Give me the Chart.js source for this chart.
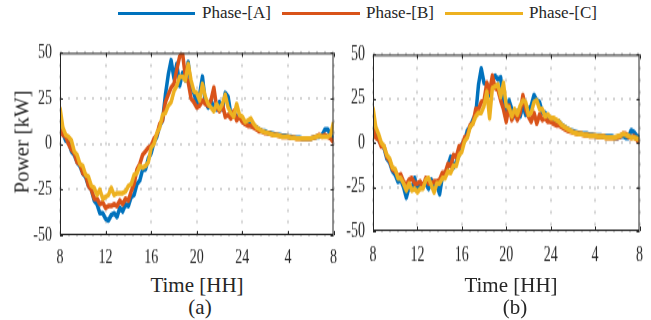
<!DOCTYPE html>
<html>
<head>
<meta charset="utf-8">
<script src="https://cdn.jsdelivr.net/npm/chart.js@4"></script>
<style>
    body {
        margin: 0;
        width: 651px;
        height: 320px;
        background: #ffffff;
        position: relative;
        overflow: hidden;
        font-family: "Liberation Serif", "Times New Roman", serif;
        color: #262626;
    }

    .painel {
        position: absolute;
        top: 30px;
        height: 240px;
    }

    .texto {
        position: absolute;
        transform: translate(-50%, -50%);
        white-space: nowrap;
        font-size: 21px;
        line-height: 1;
    }

    .legenda-linha {
        position: absolute;
        height: 3px;
        top: 12px;
    }

    .legenda-texto {
        position: absolute;
        top: 3px;
        font-size: 17px;
        line-height: 20px;
    }
</style>
</head>
<body>

<canvas id="graficoA" class="painel" style="left:0px;width:345px;"></canvas>
<canvas id="graficoB" class="painel" style="left:330px;width:321px;"></canvas>

<div class="legenda-linha" style="left:118px;width:77px;background:#0072BD;"></div>
<div class="legenda-texto" style="left:202px;">Phase-[A]</div>
<div class="legenda-linha" style="left:282px;width:78px;background:#D95319;"></div>
<div class="legenda-texto" style="left:366px;">Phase-[B]</div>
<div class="legenda-linha" style="left:445px;width:78px;background:#EDB120;"></div>
<div class="legenda-texto" style="left:529px;">Phase-[C]</div>

<div class="texto" style="left:22px;top:142px;transform:translate(-50%,-50%) rotate(-90deg);">Power [kW]</div>
<div class="texto" style="left:197px;top:285px;">Time [HH]</div>
<div class="texto" style="left:200px;top:307px;">(a)</div>
<div class="texto" style="left:511px;top:285px;">Time [HH]</div>
<div class="texto" style="left:515px;top:307px;">(b)</div>

<script>

// amostras a cada 15 min, de 8h ate 8h do dia seguinte
const passoHoras = 0.25;

const rotulosHora = ["8", "12", "16", "20", "24", "4", "8"];

const seriesNomes = ["Phase-[A]", "Phase-[B]", "Phase-[C]"];

const seriesCores = ["#0072BD", "#D95319", "#EDB120"];

// (a)
const faseA_a = [
    8, 6, 2, 1, -4, -6, -10, -12, -16, -18, -23, -25, -31, -33, -38, -38,
    -41, -42, -39, -38, -40, -35, -37, -33, -34, -29, -28, -22, -20, -14, -14, -8,
    -5, 1, 4, 10, 13, 27, 38, 46, 36, 44, 32, 39, 35, 45, 31, 28,
    22, 27, 37, 23, 20, 24, 20, 19, 23, 19, 28, 26, 16, 17, 15, 15,
    13, 11, 12, 10, 10, 9, 8, 7, 7, 6, 6, 5.5, 5, 5, 4.5, 4.5,
    4, 4, 3.5, 3.5, 3.5, 3, 3, 3, 3, 3.5, 4, 4, 5, 8, 8, 5,
    3
];

const faseB_a = [
    8, 5, 4, 0, -3, -5, -10, -11, -16, -17, -23, -25, -30, -30, -33, -32,
    -35, -34, -34, -33, -34, -31, -33, -30, -31, -26, -22, -14, -11, -6, -4, -2,
    -1, 3, 5, 11, 13, 23, 27, 31, 33, 41, 48, 50, 37, 34, 25, 23,
    20, 21, 24, 22, 21, 24, 31, 20, 18, 22, 15, 16, 14, 18, 13, 15,
    12, 11, 10, 10, 9, 8, 7, 7, 6, 6, 5.5, 5, 5, 4.5, 4, 4,
    4, 3.5, 3.5, 3, 3, 3, 3, 3, 3, 3.5, 4, 5, 4, 5, 4, 3,
    1
];

const faseC_a = [
    20, 9, 5, 4, 2, -4, -6, -11, -12, -17, -18, -23, -24, -28, -25, -30,
    -29, -28, -24, -28, -27, -27, -27, -26, -23, -22, -17, -16, -12, -13, -12, -10,
    -2, 0, 6, 9, 16, 17, 21, 23, 29, 32, 37, 37, 35, 44, 35, 29,
    28, 24, 33, 26, 22, 20, 18, 22, 19, 22, 27, 20, 17, 15, 22, 16,
    15, 12, 13, 14, 11, 9, 8, 7, 6.5, 6, 5.5, 5, 5, 4.5, 4, 4,
    4, 3.5, 3.5, 3, 3, 3, 3, 3, 3, 3.5, 4, 4.5, 4, 4, 4, 5,
    12
];

// (b)
const faseA_b = [
    8, 4, 2, -1, -3, -9, -11, -16, -18, -22, -21, -25, -31, -25, -26, -20,
    -26, -23, -24, -23, -26, -21, -24, -24, -29, -19, -18, -13, -8, -14, -11, -7,
    -1, 1, 7, 9, 13, 16, 33, 42, 34, 33, 27, 36, 38, 36, 37, 21,
    16, 24, 19, 15, 18, 15, 21, 16, 19, 21, 27, 24, 23, 17, 17, 14,
    14, 13, 11, 12, 10, 9, 8, 7, 6.5, 6, 5.5, 5, 5, 5, 4.5, 4.5,
    4, 4, 4, 3.5, 3.5, 3.5, 3.5, 3, 3, 3.5, 4, 3, 3, 7, 6, 4,
    3
];

const faseB_b = [
    8, 3, 2, -2, -2, -8, -10, -15, -16, -19, -18, -22, -24, -21, -20, -23,
    -23, -22, -25, -20, -23, -23, -22, -22, -21, -17, -17, -12, -13, -7, -8, -2,
    -2, 3, 4, 10, 11, 19, 19, 23, 24, 34, 29, 38, 31, 30, 24, 19,
    12, 21, 13, 18, 13, 17, 27, 19, 15, 12, 17, 11, 16, 13, 14, 12,
    12, 11, 10, 10, 9, 8, 7, 6.5, 6, 5.5, 5, 5, 4.5, 4.5, 4, 4,
    4, 3.5, 3.5, 3.5, 3, 3, 3, 3, 3, 3.5, 5, 5, 3.5, 3, 3.5, 2,
    0
];

const faseC_b = [
    20, 9, 5, 0, -2, -7, -9, -14, -15, -20, -20, -23, -27, -23, -27, -26,
    -28, -26, -26, -21, -20, -24, -28, -23, -23, -20, -20, -16, -17, -13, -13, -7,
    -5, 1, 3, 9, 11, 15, 17, 17, 21, 29, 14, 31, 32, 33, 26, 34,
    21, 20, 15, 19, 16, 21, 24, 23, 16, 17, 23, 24, 19, 19, 15, 16,
    14, 14, 13, 12, 10, 9, 8, 7, 6, 5.5, 5, 5, 4.5, 4.5, 4, 4,
    4, 3.5, 3.5, 3.5, 3, 3, 3, 3, 3.5, 4, 5, 4.5, 4, 3, 3, 2.5,
    2
];

const corTexto = "#262626";

const corGrade = "#d4d4d4";

const fonteSerif = "'Liberation Serif', 'Times New Roman', serif";

function montarPontos(valores) {

    return valores.map((v, i) => ({
        x: i * passoHoras,
        y: v
    }));
}

// caixa e marcas internas, estilo matlab
const pluginCaixa = {

    id: "caixa",

    afterDraw(chart) {

        const { ctx, chartArea, scales } = chart;

        const { left, right, top, bottom } = chartArea;

        ctx.save();

        ctx.strokeStyle = corTexto;

        ctx.lineWidth = 1;

        ctx.strokeRect(left + 0.5, top + 0.5, right - left - 1, bottom - top - 1);

        ctx.beginPath();

        scales.x.ticks.forEach(t => {

            const px = Math.round(scales.x.getPixelForValue(t.value)) + 0.5;

            ctx.moveTo(px, bottom);
            ctx.lineTo(px, bottom - 3);
            ctx.moveTo(px, top);
            ctx.lineTo(px, top + 3);
        });

        scales.y.ticks.forEach(t => {

            const py = Math.round(scales.y.getPixelForValue(t.value)) + 0.5;

            ctx.moveTo(left, py);
            ctx.lineTo(left + 3, py);
            ctx.moveTo(right, py);
            ctx.lineTo(right - 3, py);
        });

        ctx.stroke();

        ctx.restore();
    }
};

function criarGrafico(idCanvas, series, larguraY, padding, alturaX) {

    const canvas = document.getElementById(idCanvas);

    return new Chart(canvas, {

        type: "line",

        data: {

            datasets: series.map((valores, i) => ({

                label: seriesNomes[i],

                data: montarPontos(valores),

                borderColor: seriesCores[i],

                borderWidth: 3.5,

                borderJoinStyle: "round",

                pointRadius: 0,

                tension: 0,

                fill: false,

                order: 3 - i
            }))
        },

        options: {

            responsive: false,

            animation: false,

            events: [],

            layout: {
                padding
            },

            plugins: {

                legend: {
                    display: false
                },

                tooltip: {
                    enabled: false
                }
            },

            scales: {

                x: {

                    type: "linear",

                    min: 0,

                    max: 24,

                    afterFit: scale => {
                        scale.height = alturaX;
                    },

                    afterBuildTicks: scale => {
                        scale.ticks = rotulosHora.map((_, i) => ({ value: i * 4 }));
                    },

                    border: {
                        display: false,
                        dash: [2, 6]
                    },

                    grid: {
                        color: corGrade,
                        lineWidth: 2,
                        drawTicks: false
                    },

                    ticks: {

                        padding: 8,

                        maxRotation: 0,

                        color: corTexto,

                        font: {
                            family: fonteSerif,
                            size: 14
                        },

                        callback: (v, i) => rotulosHora[i]
                    }
                },

                y: {

                    min: -50,

                    max: 50,

                    afterFit: scale => {
                        scale.width = larguraY;
                    },

                    border: {
                        display: false,
                        dash: [2, 6]
                    },

                    grid: {
                        color: corGrade,
                        lineWidth: 2,
                        drawTicks: false
                    },

                    ticks: {

                        stepSize: 25,

                        padding: 8,

                        color: corTexto,

                        font: {
                            family: fonteSerif,
                            size: 14
                        }
                    }
                }
            }
        },

        plugins: [pluginCaixa]
    });
}

criarGrafico(
    "graficoA",
    [faseA_a, faseB_a, faseC_a],
    60,
    { top: 10, right: 10, left: 0, bottom: 0 },
    25
);

criarGrafico(
    "graficoB",
    [faseA_b, faseB_b, faseC_b],
    43,
    { top: 12, right: 1, left: 0, bottom: 0 },
    26
);

</script>
</body>
</html>
